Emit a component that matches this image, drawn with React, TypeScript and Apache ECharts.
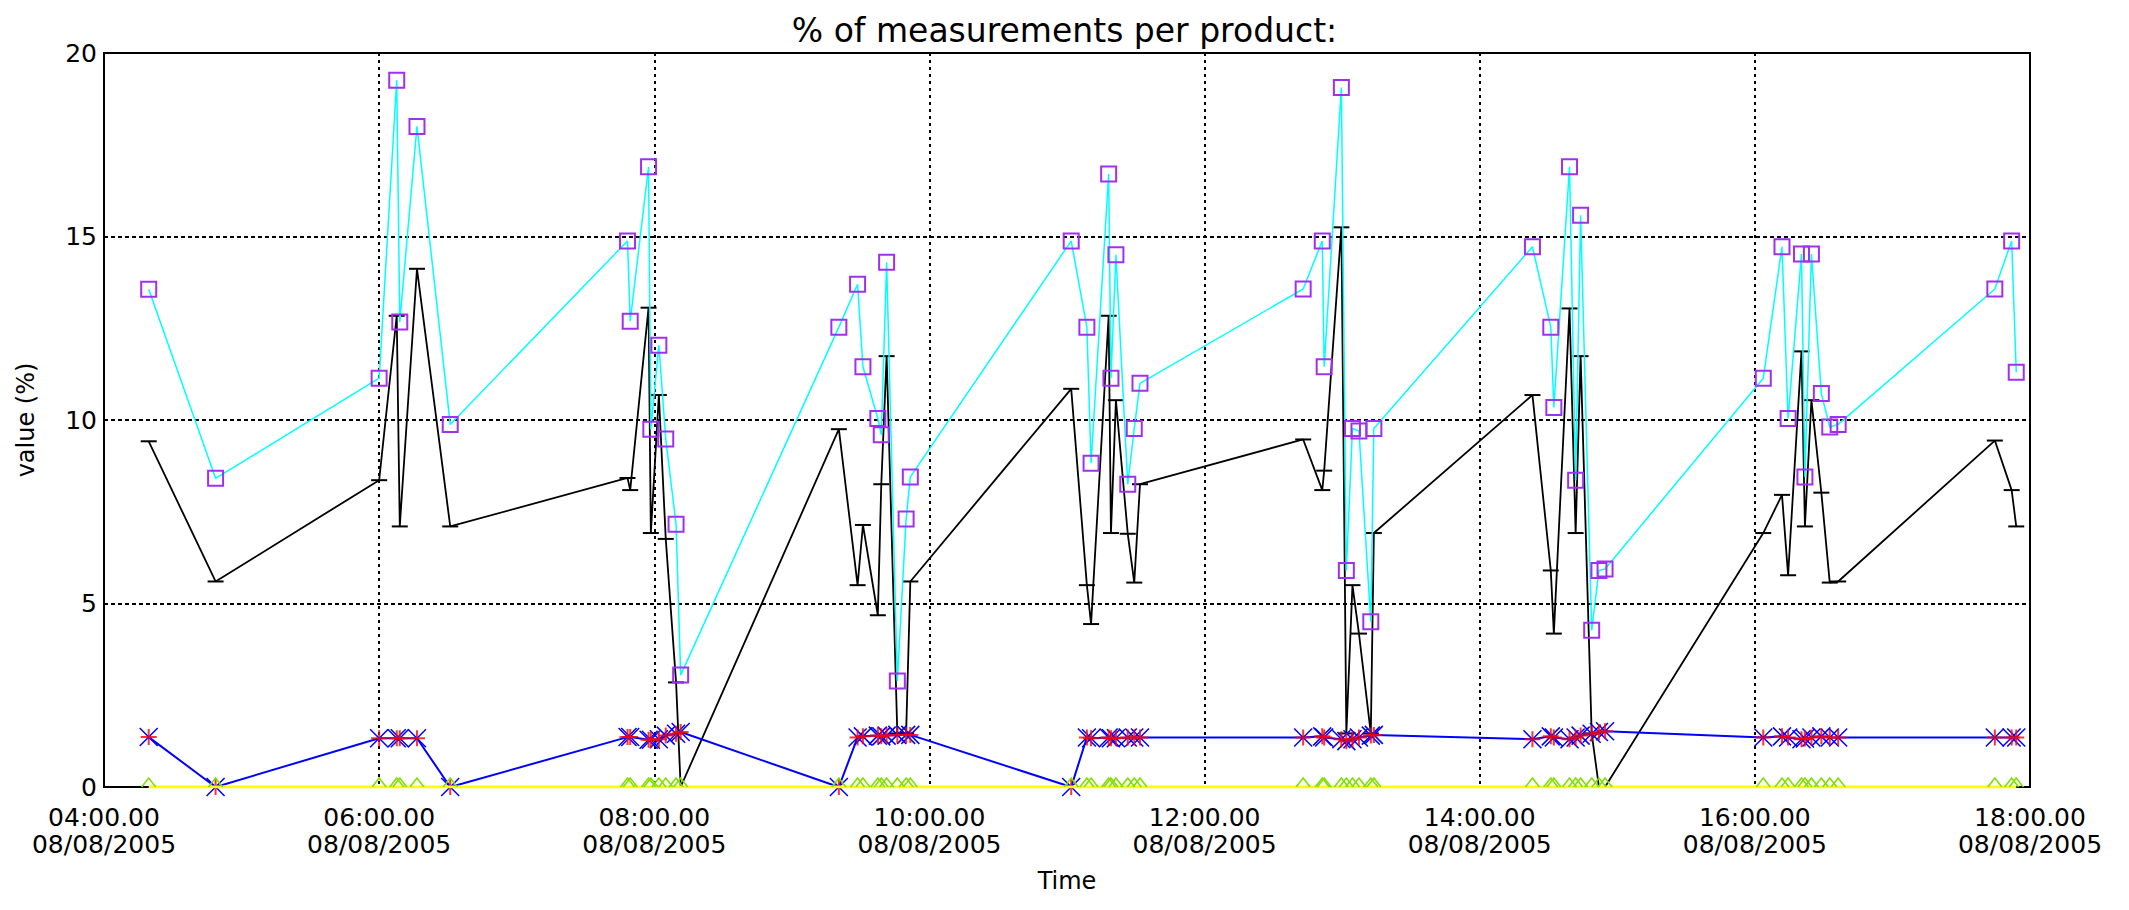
import React, { useEffect, useRef } from "react";
import * as echarts from "echarts";

const CHART_TITLE = "% of measurements per product:";
const DAY_LABEL = "08/08/2005";
const X_NAME = "Time";
const Y_NAME = "value (%)";
const X_MIN = "04:00:00";
const X_MAX = "18:00:00";
const X_STEP_MIN = 120;
const Y_MIN = 0;
const Y_MAX = 20;
const Y_STEP = 5;

const times = [
  "04:19:30", "04:48:40",
  "06:00:00", "06:07:40", "06:09:00", "06:16:30", "06:31:00",
  "07:48:20", "07:49:30", "07:57:30", "07:58:30", "08:02:00", "08:05:00", "08:09:30", "08:11:30",
  "09:20:30", "09:28:40", "09:31:00", "09:37:30", "09:39:00", "09:41:20", "09:46:00", "09:49:50", "09:51:40",
  "11:01:50", "11:08:40", "11:10:30", "11:18:10", "11:19:10", "11:21:20", "11:26:30", "11:29:20", "11:31:50",
  "12:43:00", "12:51:20", "12:52:10", "12:59:40", "13:01:50", "13:04:30", "13:07:20", "13:12:30", "13:13:50",
  "14:23:00", "14:31:00", "14:32:20", "14:39:10", "14:41:50", "14:44:00", "14:48:50", "14:52:00", "14:54:40",
  "16:03:40", "16:11:50", "16:14:30", "16:20:20", "16:21:50", "16:24:40", "16:29:00", "16:32:40", "16:36:20",
  "17:44:40", "17:52:00", "17:54:00",
];

// cyan line, purple squares
const pctCyan = [
  13.56, 8.41,
  11.14, 19.26, 12.67, 18.0, 9.88,
  14.88, 12.69, 16.9, 9.75, 12.04, 9.48, 7.16, 3.05,
  12.53, 13.7, 11.45, 10.04, 9.6, 14.3, 2.89, 7.3, 8.45,
  14.88, 12.53, 8.82, 16.7, 11.14, 14.5, 8.25, 9.77, 11.0,
  13.57, 14.88, 11.45, 19.06, 5.9, 9.77, 9.7, 4.5, 9.77,
  14.72, 12.53, 10.34, 16.9, 8.36, 15.58, 4.27, 5.9, 5.94,
  11.14, 14.72, 10.04, 14.52, 8.45, 14.52, 10.72, 9.81, 9.88,
  13.57, 14.88, 11.3,
];

// black line, dash markers
const pctBlack = [
  9.42, 5.6,
  8.36, 12.84, 7.1, 14.12, 7.1,
  8.42, 8.09, 13.06, 6.92, 10.68, 6.76, 2.85, 0,
  9.75, 5.5, 7.14, 4.68, 8.25, 11.74, 1.46, 1.46, 5.6,
  10.85, 5.5, 4.44, 12.84, 6.92, 10.54, 6.9, 5.57, 8.25,
  9.47, 8.09, 8.62, 15.25, 1.46, 5.5, 4.18, 1.46, 6.92,
  10.68, 5.9, 4.18, 13.04, 6.92, 11.74, 1.46, 0, 0,
  6.92, 7.96, 5.77, 11.87, 7.1, 10.54, 8.02, 5.57, 5.6,
  9.44, 8.09, 7.1,
];

// blue line, red/blue asterisks
const pctBlue = [
  1.36, 0,
  1.33, 1.33, 1.33, 1.33, 0,
  1.36, 1.36, 1.29, 1.29, 1.3, 1.4, 1.45, 1.5,
  0, 1.35, 1.38, 1.4, 1.38, 1.4, 1.42, 1.42, 1.42,
  0, 1.35, 1.33, 1.35, 1.33, 1.33, 1.35, 1.35, 1.35,
  1.35, 1.38, 1.35, 1.3, 1.25, 1.3, 1.35, 1.4, 1.42,
  1.3, 1.38, 1.35, 1.3, 1.35, 1.4, 1.45, 1.5, 1.52,
  1.35, 1.38, 1.35, 1.3, 1.32, 1.35, 1.38, 1.35, 1.35,
  1.35, 1.35, 1.35,
];

// yellow line, green triangles
const pctYellow = [
  0, 0,
  0, 0, 0, 0, 0,
  0, 0, 0, 0, 0, 0, 0, 0,
  0, 0, 0, 0, 0, 0, 0, 0, 0,
  0, 0, 0, 0, 0, 0, 0, 0, 0,
  0, 0, 0, 0, 0, 0, 0, 0, 0,
  0, 0, 0, 0, 0, 0, 0, 0, 0,
  0, 0, 0, 0, 0, 0, 0, 0, 0,
  0, 0, 0,
];

function toMinutes(t: string): number {
  const [h, m, s] = t.split(":").map(Number);
  return h * 60 + m + s / 60;
}
function pad2(n: number): string {
  return String(n).padStart(2, "0");
}
function fmtTick(v: number): string {
  const totalSec = Math.round(v * 60);
  const h = Math.floor(totalSec / 3600);
  const m = Math.floor((totalSec % 3600) / 60);
  const s = totalSec % 60;
  return `${pad2(h)}:${pad2(m)}.${pad2(s)}\n${DAY_LABEL}`;
}
const pts = (vals: number[]) => times.map((t, i) => [toMinutes(t), vals[i]]);

const FONT = "DejaVu Sans";

export default function App() {
  const ref = useRef<HTMLDivElement>(null);
  useEffect(() => {
    if (!ref.current) return;
    const chart = echarts.init(ref.current, null, { renderer: "svg" });
    chart.setOption({
      animation: false,
      backgroundColor: "#ffffff",
      title: {
        text: CHART_TITLE,
        left: "center",
        top: 9,
        textStyle: { fontSize: 33, fontWeight: "normal", fontFamily: FONT, color: "#000" },
      },
      grid: {
        left: 104,
        right: 99,
        top: 53,
        bottom: 123,
        show: true,
        borderColor: "#000",
        borderWidth: 2,
        backgroundColor: "transparent",
      },
      xAxis: {
        type: "value",
        min: toMinutes(X_MIN),
        max: toMinutes(X_MAX),
        interval: X_STEP_MIN,
        name: X_NAME,
        nameLocation: "middle",
        nameGap: 82,
        nameTextStyle: { fontSize: 24, fontFamily: FONT, color: "#000" },
        axisLine: { show: true, lineStyle: { color: "#000", width: 2 } },
        axisTick: { show: false },
        axisLabel: {
          formatter: fmtTick,
          fontSize: 25,
          lineHeight: 27,
          margin: 17,
          fontFamily: FONT,
          color: "#000",
        },
        splitLine: { show: true, lineStyle: { color: "#000", type: [3, 4], width: 2 } },
      },
      yAxis: {
        type: "value",
        min: Y_MIN,
        max: Y_MAX,
        interval: Y_STEP,
        name: Y_NAME,
        nameLocation: "middle",
        nameGap: 66,
        nameTextStyle: { fontSize: 24, fontFamily: FONT, color: "#000" },
        axisLine: { show: true, lineStyle: { color: "#000", width: 2 } },
        axisTick: { show: false },
        axisLabel: { fontSize: 25, fontFamily: FONT, color: "#000", margin: 7 },
        splitLine: { show: true, lineStyle: { color: "#000", type: [4, 3], width: 2 } },
      },
      series: [
        {
          type: "line",
          data: pts(pctBlack),
          symbol: "rect",
          symbolSize: [16, 2],
          showAllSymbol: true,
          lineStyle: { color: "#000", width: 1.8 },
          itemStyle: { color: "#000" },
          z: 2,
        },
        {
          type: "line",
          data: pts(pctCyan),
          symbol: "rect",
          symbolSize: 15,
          showAllSymbol: true,
          lineStyle: { color: "#00ffff", width: 1.5 },
          itemStyle: { color: "rgba(0,0,0,0)", borderColor: "#a030f0", borderWidth: 2 },
          z: 3,
        },
        {
          type: "line",
          data: pts(pctBlue),
          symbol: "path://M0,0L10,10M10,0L0,10",
          symbolSize: 18,
          showAllSymbol: true,
          lineStyle: { color: "#0000ff", width: 2 },
          itemStyle: { color: "rgba(0,0,0,0)", borderColor: "#0000ff", borderWidth: 1.5 },
          z: 4,
        },
        {
          type: "scatter",
          data: pts(pctBlue),
          symbol: "path://M5,0L5,10M0,5L10,5",
          symbolSize: 16,
          itemStyle: { color: "rgba(0,0,0,0)", borderColor: "#ff0000", borderWidth: 2 },
          z: 5,
        },
        {
          type: "line",
          data: pts(pctYellow),
          symbol: "path://M0,10L6,0L12,10",
          symbolSize: [14, 9],
          symbolOffset: [0, -4.5],
          showAllSymbol: true,
          lineStyle: { color: "#ffff00", width: 3 },
          itemStyle: { color: "rgba(0,0,0,0)", borderColor: "#80e000", borderWidth: 1.5 },
          z: 6,
        },
      ],
    });
    return () => chart.dispose();
  }, []);
  return (
    <div
      ref={ref}
      style={{ position: "fixed", left: 0, top: 0, width: 2129, height: 910, background: "#fff" }}
    />
  );
}
